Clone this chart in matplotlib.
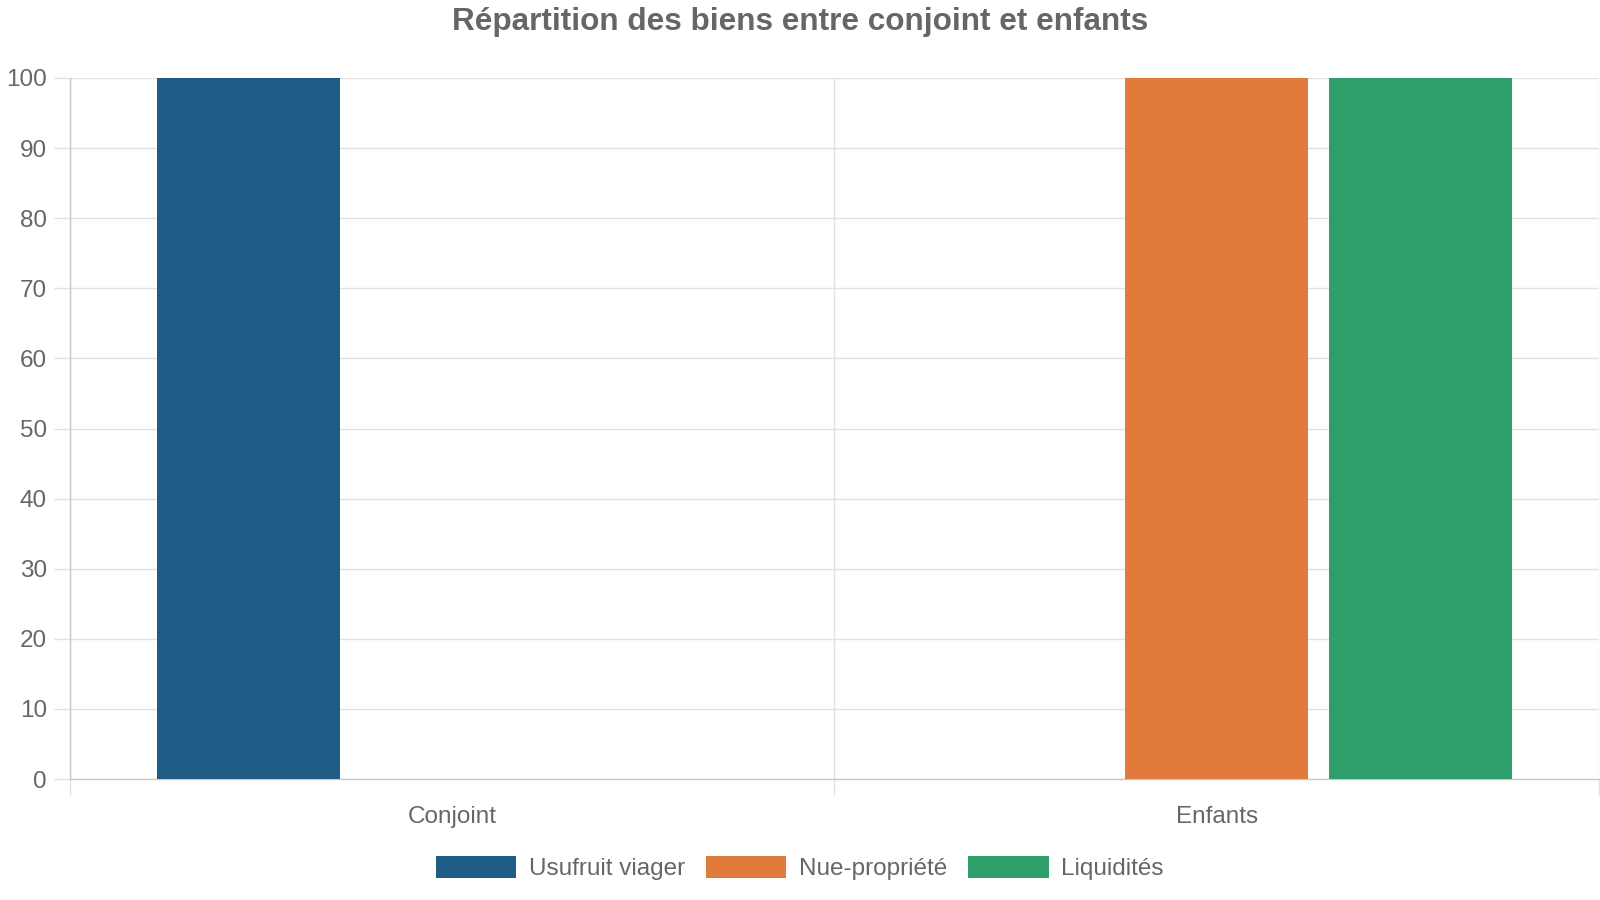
import numpy as np
import matplotlib
matplotlib.use("Agg")
import matplotlib.pyplot as plt

# --- data ---
categories = ["Conjoint", "Enfants"]
series_names = ["Usufruit viager", "Nue-propriété", "Liquidités"]
usufruit = [100, 0]
nue_propriete = [0, 100]
liquidites = [0, 100]
colors = ["#1f5d87", "#e07b3b", "#2e9e6b"]
y_ticks = list(range(0, 101, 10))

plt.rcParams["font.family"] = ["Liberation Sans", "DejaVu Sans"]
text_color = "#666666"
grid_color = "#e1e1e1"
axis_color = "#c8c8c8"

fig = plt.figure(figsize=(16, 9), dpi=100)
ax = fig.add_axes([70 / 1600, 1 - 779 / 900, 1529 / 1600, (779 - 78) / 900])

x = np.arange(len(categories))
slot = 0.8 / 3
width = slot * 0.9
for i, (vals, name) in enumerate(zip([usufruit, nue_propriete, liquidites], series_names)):
    ax.bar(x + (i - 1) * slot, vals, width=width, color=colors[i], label=name, zorder=3)

ax.set_xlim(-0.5, len(categories) - 0.5)
ax.set_ylim(0, 100)

# x axis: labels at category centres, grid/ticks at boundaries
ax.set_xticks(x)
ax.set_xticklabels(categories)
ax.set_xticks(np.arange(-0.5, len(categories), 1.0), minor=True)
ax.tick_params(axis="x", which="major", length=0, pad=19.5, labelsize=17.5, labelcolor=text_color)
ax.tick_params(axis="x", which="minor", length=11.5, width=1, color=grid_color)
ax.grid(True, axis="x", which="minor", color=grid_color, linewidth=1, zorder=0)

ax.set_yticks(y_ticks)
ax.tick_params(axis="y", length=11.5, width=1, color=grid_color, pad=5, labelsize=17.5, labelcolor=text_color)
ax.grid(True, axis="y", which="major", color=grid_color, linewidth=1, zorder=0)

for side in ["top", "right"]:
    ax.spines[side].set_visible(False)
for side in ["left", "bottom"]:
    ax.spines[side].set_color(axis_color)
    ax.spines[side].set_linewidth(1)

fig.text(0.5, 1 - 22 / 900, "Répartition des biens entre conjoint et enfants",
         ha="center", va="center", fontsize=22.7, fontweight="bold", color=text_color)

fig.legend(loc="center", bbox_to_anchor=(0.5, 1 - 868 / 900), ncol=3, frameon=False,
           fontsize=17.5, labelcolor=text_color, handlelength=3.3, handleheight=1.0,
           handletextpad=0.53, columnspacing=0.86)

fig.savefig("out.png", dpi=100)
